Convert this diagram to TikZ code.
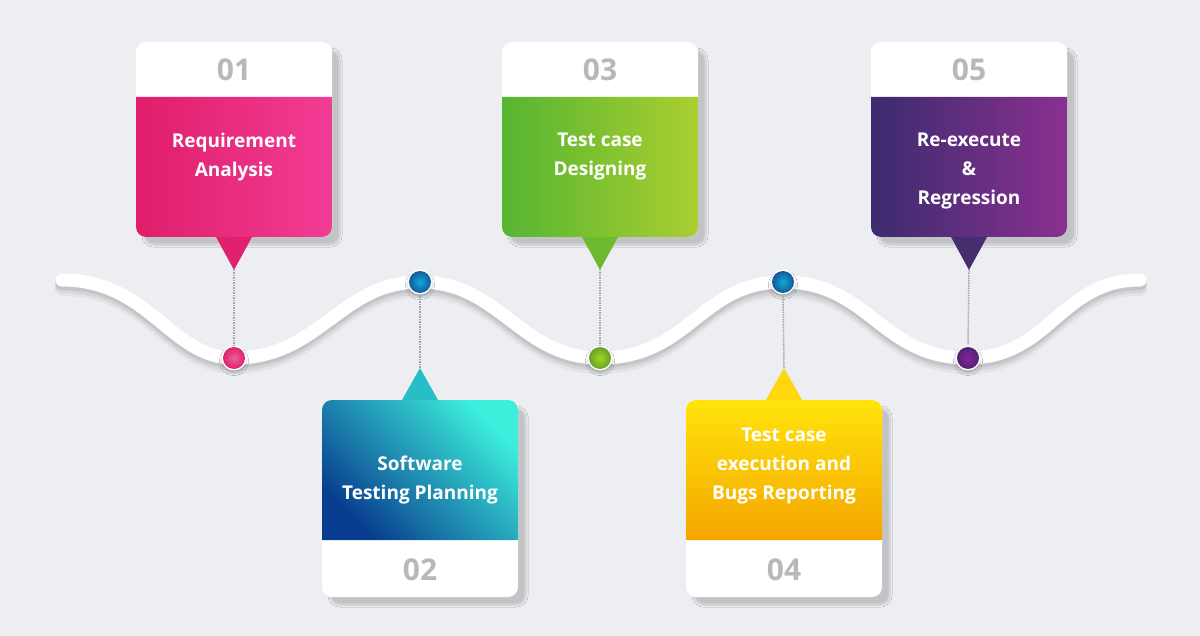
\documentclass[tikz,border=0pt]{standalone}
\usepackage{fontspec}
\setmainfont{Open Sans}
\usetikzlibrary{shadows.blur}
\definecolor{bg}{HTML}{ECEEF1}
\definecolor{numc}{HTML}{B8B8B8}
\definecolor{pinkA}{HTML}{E01E6A}\definecolor{pinkB}{HTML}{F23C95}
\definecolor{grnA}{HTML}{56B532}\definecolor{grnB}{HTML}{AACE30}
\definecolor{purA}{HTML}{3B2C6E}\definecolor{purB}{HTML}{8A3090}
\definecolor{bluA}{HTML}{083C8E}\definecolor{bluB}{HTML}{3CEEDC}
\definecolor{yelA}{HTML}{FFE40A}\definecolor{yelB}{HTML}{F5A500}
\definecolor{pinkT}{HTML}{E1206E}\definecolor{grnT}{HTML}{6EB92D}
\definecolor{purT}{HTML}{462D6E}\definecolor{bluT}{HTML}{28BEC8}
\definecolor{yelT}{HTML}{FFD70A}
\definecolor{dPink}{HTML}{E0206E}\definecolor{dBlue}{HTML}{1A6FC0}
\definecolor{dGrn}{HTML}{78C030}\definecolor{dPur}{HTML}{5A2C80}
\tikzset{
  lbl/.style={text=white,font=\bfseries\fontsize{19}{29}\selectfont,align=center},
  num/.style={text=numc,font=\bfseries\fontsize{30}{30}\selectfont},
  dotn/.style={circle,minimum size=25pt,inner sep=0pt,fill=white,blur shadow={shadow xshift=0pt,shadow yshift=-3pt,shadow opacity=20}},
  vline/.style={draw=gray!70,densely dotted,line width=1.5pt},
  bshadow/.style={blur shadow={shadow xshift=8pt,shadow yshift=-8pt,shadow opacity=18,shadow blur steps=10,shadow blur extra rounding=6pt}},
}
\newcommand{\topbox}[7]{%
  \fill[white,rounded corners=10pt,bshadow] (#1,#2) rectangle ++(196,195);
  \shade[#3] (#1,#2+55) -- (#1+196,#2+55) [rounded corners=10pt] -- (#1+196,#2+195) -- (#1,#2+195) [sharp corners] -- cycle;
  \node[num] at (#1+98,#2+28) {#5};
  \node[lbl] at (#1+98,#2+#7) {#4};
  \fill[#6] (#1+80,#2+195) -- (#1+116,#2+195) -- (#1+98,#2+228) -- cycle;
  \coordinate (p#5) at (#1+98,#2+228);
}
\newcommand{\botbox}[7]{%
  \fill[white,rounded corners=10pt,bshadow] (#1,#2) rectangle ++(196,197);
  \shade[#3] (#1,#2+140) -- (#1+196,#2+140) [rounded corners=10pt] -- (#1+196,#2) -- (#1,#2) [sharp corners] -- cycle;
  \node[num] at (#1+98,#2+170) {#5};
  \node[lbl] at (#1+98,#2+#7) {#4};
  \fill[#6] (#1+80,#2) -- (#1+116,#2) -- (#1+98,#2-32) -- cycle;
  \coordinate (p#5) at (#1+98,#2-32);
}
\begin{document}
\begin{tikzpicture}[x=1pt,y=-1pt]
\fill[bg] (0,0) rectangle (1200,636);
\useasboundingbox (0,0) rectangle (1200,636);
\foreach \o/\op in {9/0.04,6/0.06,3/0.08}{
\draw[black,opacity=\op,line width=14pt,line cap=round]
  (62,280+\o) .. controls (150,280+\o) and (170,358+\o) .. (234,358+\o)
  .. controls (320,358+\o) and (340,282+\o) .. (420,282+\o)
  .. controls (500,282+\o) and (520,358+\o) .. (600,358+\o)
  .. controls (690,358+\o) and (700,282+\o) .. (783,282+\o)
  .. controls (870,282+\o) and (880,358+\o) .. (968,358+\o)
  .. controls (1050,358+\o) and (1060,280+\o) .. (1140,280+\o);}
\draw[white,line width=13pt,line cap=round]
  (62,280) .. controls (150,280) and (170,358) .. (234,358)
  .. controls (320,358) and (340,282) .. (420,282)
  .. controls (500,282) and (520,358) .. (600,358)
  .. controls (690,358) and (700,282) .. (783,282)
  .. controls (870,282) and (880,358) .. (968,358)
  .. controls (1050,358) and (1060,280) .. (1140,280);
\topbox{136}{42}{left color=pinkA,right color=pinkB}{Requirement\\Analysis}{01}{pinkT}{115}
\topbox{502}{42}{left color=grnA,right color=grnB}{Test case\\Designing}{03}{grnT}{115}
\topbox{871}{42}{left color=purA,right color=purB}{Re-execute\\\&\\Regression}{05}{purT}{129}
\botbox{322}{400}{left color=bluA,right color=bluB,shading angle=135}{Software\\Testing Planning}{02}{bluT}{80}
\botbox{686}{400}{top color=yelA,bottom color=yelB}{Test case\\execution and\\Bugs Reporting}{04}{yelT}{66}
\node[dotn] (w1) at (234,358) {};
\node[dotn] (w2) at (420,282) {};
\node[dotn] (w3) at (600,358) {};
\node[dotn] (w4) at (783,282) {};
\node[dotn] (w5) at (968,358) {};
\shade[inner color=dPink!70,outer color=dPink] (w1) circle (11pt);
\shade[inner color=dBlue!60!cyan,outer color=dBlue!80!black] (w2) circle (11pt);
\shade[inner color=dGrn!70!yellow,outer color=dGrn!85!black] (w3) circle (11pt);
\shade[inner color=dBlue!60!cyan,outer color=dBlue!80!black] (w4) circle (11pt);
\shade[inner color=dPur!70!magenta,outer color=dPur!85!black] (w5) circle (11pt);
\draw[vline] (p01) -- (w1.north);
\draw[vline] (p02) -- (w2.south);
\draw[vline] (p03) -- (w3.north);
\draw[vline] (p04) -- (w4.south);
\draw[vline] (p05) -- (w5.north);
\end{tikzpicture}
\end{document}
